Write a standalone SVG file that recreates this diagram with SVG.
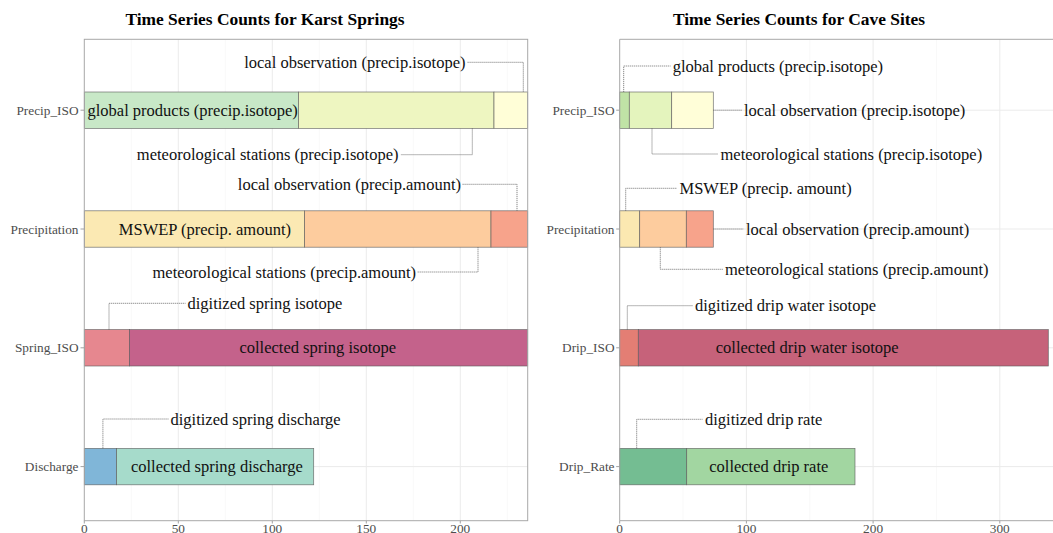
<svg xmlns="http://www.w3.org/2000/svg" width="1053" height="533" viewBox="0 0 1053 533">
<style>
text { font-family: "Liberation Serif", "Times New Roman", serif; }
.title { font-size: 17.4px; font-weight: bold; fill: #000; text-anchor: middle; }
.ann { font-size: 16.5px; fill: #111; }
.ax { font-size: 13.3px; fill: #4d4d4d; }
.yl { text-anchor: end; }
.xl { text-anchor: middle; }
.mid { text-anchor: middle; }
.end { text-anchor: end; }
.gmaj { stroke: #ebebeb; stroke-width: 1; }
.gmin { stroke: #f5f5f5; stroke-width: 0.6; }
.frame { fill: none; stroke: #a8a8a8; stroke-width: 1; }
.tick { stroke: #8a8a8a; stroke-width: 0.8; }
.bar { stroke: #5c5c5c; stroke-width: 0.7; stroke-opacity: 0.85; }
.lead { fill: none; stroke: #555; stroke-width: 0.7; stroke-dasharray: 1.2 0.8; }
</style>
<rect x="0" y="0" width="1053" height="533" fill="#ffffff"/>

<!-- ============ LEFT PANEL ============ -->
<g id="left-panel">
  <text class="title" x="265" y="24.5">Time Series Counts for Karst Springs</text>
  <g id="left-grid">
    <line class="gmin" x1="131.3" y1="39.3" x2="131.3" y2="520.7"/>
    <line class="gmin" x1="225.3" y1="39.3" x2="225.3" y2="520.7"/>
    <line class="gmin" x1="319.3" y1="39.3" x2="319.3" y2="520.7"/>
    <line class="gmin" x1="413.3" y1="39.3" x2="413.3" y2="520.7"/>
    <line class="gmin" x1="507.3" y1="39.3" x2="507.3" y2="520.7"/>
    <line class="gmaj" x1="178.3" y1="39.3" x2="178.3" y2="520.7"/>
    <line class="gmaj" x1="272.3" y1="39.3" x2="272.3" y2="520.7"/>
    <line class="gmaj" x1="366.3" y1="39.3" x2="366.3" y2="520.7"/>
    <line class="gmaj" x1="460.3" y1="39.3" x2="460.3" y2="520.7"/>
    <line class="gmaj" x1="84.3" y1="110.2" x2="527.7" y2="110.2"/>
    <line class="gmaj" x1="84.3" y1="229" x2="527.7" y2="229"/>
    <line class="gmaj" x1="84.3" y1="347.8" x2="527.7" y2="347.8"/>
    <line class="gmaj" x1="84.3" y1="466.6" x2="527.7" y2="466.6"/>
  </g>
  <g id="left-axes">
    <line class="tick" x1="80.5" y1="110.2" x2="84.3" y2="110.2"/>
    <line class="tick" x1="80.5" y1="229" x2="84.3" y2="229"/>
    <line class="tick" x1="80.5" y1="347.8" x2="84.3" y2="347.8"/>
    <line class="tick" x1="80.5" y1="466.6" x2="84.3" y2="466.6"/>
    <line class="tick" x1="84.3" y1="520.7" x2="84.3" y2="523.5"/>
    <line class="tick" x1="178.3" y1="520.7" x2="178.3" y2="523.5"/>
    <line class="tick" x1="272.3" y1="520.7" x2="272.3" y2="523.5"/>
    <line class="tick" x1="366.3" y1="520.7" x2="366.3" y2="523.5"/>
    <line class="tick" x1="460.3" y1="520.7" x2="460.3" y2="523.5"/>
    <text class="ax yl" x="78.5" y="114.7">Precip_ISO</text>
    <text class="ax yl" x="78.5" y="233.5">Precipitation</text>
    <text class="ax yl" x="78.5" y="352.3">Spring_ISO</text>
    <text class="ax yl" x="78.5" y="471.1">Discharge</text>
    <text class="ax xl" x="84.3" y="532.5">0</text>
    <text class="ax xl" x="178.3" y="532.5">50</text>
    <text class="ax xl" x="272.3" y="532.5">100</text>
    <text class="ax xl" x="366.3" y="532.5">150</text>
    <text class="ax xl" x="460.3" y="532.5">200</text>
  </g>
</g>

<g id="node-left-precipiso-global">
  <rect class="bar" x="84.3" y="92" width="214.2" height="36.4" fill="#c8e8c7"/>
  <text class="ann" x="87.5" y="115.7">global products (precip.isotope)</text>
</g>
<g id="node-left-precipiso-met">
  <rect class="bar" x="298.5" y="92" width="195.5" height="36.4" fill="#eef6c1"/>
  <text class="ann end" x="398.5" y="160.2">meteorological stations (precip.isotope)</text>
</g>
<g id="node-left-precipiso-local">
  <rect class="bar" x="494" y="92" width="33.7" height="36.4" fill="#fffed7"/>
  <text class="ann end" x="465.5" y="67.8">local observation (precip.isotope)</text>
</g>

<g id="node-left-precip-mswep">
  <rect class="bar" x="84.3" y="210.8" width="220.3" height="36.4" fill="#fbe9b3"/>
  <text class="ann mid" x="204.9" y="234.5">MSWEP (precip. amount)</text>
</g>
<g id="node-left-precip-met">
  <rect class="bar" x="304.6" y="210.8" width="186.4" height="36.4" fill="#fdcc9e"/>
  <text class="ann end" x="416" y="277.5">meteorological stations (precip.amount)</text>
</g>
<g id="node-left-precip-local">
  <rect class="bar" x="491" y="210.8" width="36.7" height="36.4" fill="#f7a38b"/>
  <text class="ann end" x="461" y="189.8">local observation (precip.amount)</text>
</g>

<g id="node-left-spring-digitized">
  <rect class="bar" x="84.3" y="329.6" width="45.2" height="36.4" fill="#e6878f"/>
  <text class="ann" x="187.5" y="308.8">digitized spring isotope</text>
</g>
<g id="node-left-spring-collected">
  <rect class="bar" x="129.5" y="329.6" width="398.2" height="36.4" fill="#c4628b"/>
  <text class="ann mid" x="317.8" y="353.3">collected spring isotope</text>
</g>

<g id="node-left-discharge-digitized">
  <rect class="bar" x="84.3" y="448.4" width="32.3" height="36.4" fill="#80b6d8"/>
  <text class="ann" x="170.5" y="424.5">digitized spring discharge</text>
</g>
<g id="node-left-discharge-collected">
  <rect class="bar" x="116.6" y="448.4" width="197.1" height="36.4" fill="#a6dbcb"/>
  <text class="ann mid" x="216.9" y="472.1">collected spring discharge</text>
</g>

<rect class="frame" x="84.3" y="39.3" width="443.4" height="481.4"/>

<!-- ============ RIGHT PANEL ============ -->
<g id="right-panel">
  <text class="title" x="799" y="24.5">Time Series Counts for Cave Sites</text>
  <g id="right-grid">
    <line class="gmin" x1="683" y1="39.3" x2="683" y2="520.7"/>
    <line class="gmin" x1="809.7" y1="39.3" x2="809.7" y2="520.7"/>
    <line class="gmin" x1="936.5" y1="39.3" x2="936.5" y2="520.7"/>
    <line class="gmaj" x1="746.4" y1="39.3" x2="746.4" y2="520.7"/>
    <line class="gmaj" x1="873.1" y1="39.3" x2="873.1" y2="520.7"/>
    <line class="gmaj" x1="999.8" y1="39.3" x2="999.8" y2="520.7"/>
    <line class="gmaj" x1="619.7" y1="110.2" x2="1053" y2="110.2"/>
    <line class="gmaj" x1="619.7" y1="229" x2="1053" y2="229"/>
    <line class="gmaj" x1="619.7" y1="347.8" x2="1053" y2="347.8"/>
    <line class="gmaj" x1="619.7" y1="466.6" x2="1053" y2="466.6"/>
  </g>
  <g id="right-axes">
    <line class="tick" x1="616.2" y1="110.2" x2="619.7" y2="110.2"/>
    <line class="tick" x1="616.2" y1="229" x2="619.7" y2="229"/>
    <line class="tick" x1="616.2" y1="347.8" x2="619.7" y2="347.8"/>
    <line class="tick" x1="616.2" y1="466.6" x2="619.7" y2="466.6"/>
    <line class="tick" x1="619.7" y1="520.7" x2="619.7" y2="523.5"/>
    <line class="tick" x1="746.4" y1="520.7" x2="746.4" y2="523.5"/>
    <line class="tick" x1="873.1" y1="520.7" x2="873.1" y2="523.5"/>
    <line class="tick" x1="999.8" y1="520.7" x2="999.8" y2="523.5"/>
    <text class="ax yl" x="614.5" y="114.7">Precip_ISO</text>
    <text class="ax yl" x="614.5" y="233.5">Precipitation</text>
    <text class="ax yl" x="614.5" y="352.3">Drip_ISO</text>
    <text class="ax yl" x="614.5" y="471.1">Drip_Rate</text>
    <text class="ax xl" x="619.7" y="532.5">0</text>
    <text class="ax xl" x="746.4" y="532.5">100</text>
    <text class="ax xl" x="873.1" y="532.5">200</text>
    <text class="ax xl" x="999.8" y="532.5">300</text>
  </g>
</g>

<g id="node-right-precipiso-global">
  <rect class="bar" x="619.7" y="92" width="9.6" height="36.4" fill="#c0e3a6"/>
  <text class="ann" x="672.7" y="71.5">global products (precip.isotope)</text>
</g>
<g id="node-right-precipiso-met">
  <rect class="bar" x="629.3" y="92" width="42.4" height="36.4" fill="#e4f4bd"/>
  <text class="ann" x="720.5" y="159.5">meteorological stations (precip.isotope)</text>
</g>
<g id="node-right-precipiso-local">
  <rect class="bar" x="671.7" y="92" width="41.6" height="36.4" fill="#fffed8"/>
  <text class="ann" x="744" y="115.7">local observation (precip.isotope)</text>
</g>

<g id="node-right-precip-mswep">
  <rect class="bar" x="619.7" y="210.8" width="20" height="36.4" fill="#fbe8b1"/>
  <text class="ann" x="679.5" y="193.8">MSWEP (precip. amount)</text>
</g>
<g id="node-right-precip-met">
  <rect class="bar" x="639.7" y="210.8" width="46.6" height="36.4" fill="#fdcc9e"/>
  <text class="ann" x="725" y="274.8">meteorological stations (precip.amount)</text>
</g>
<g id="node-right-precip-local">
  <rect class="bar" x="686.3" y="210.8" width="27" height="36.4" fill="#f7a38b"/>
  <text class="ann" x="746" y="234.5">local observation (precip.amount)</text>
</g>

<g id="node-right-drip-digitized">
  <rect class="bar" x="619.7" y="329.6" width="18.6" height="36.4" fill="#e37e74"/>
  <text class="ann" x="695" y="311.2">digitized drip water isotope</text>
</g>
<g id="node-right-drip-collected">
  <rect class="bar" x="638.3" y="329.6" width="410" height="36.4" fill="#c6627a"/>
  <text class="ann mid" x="807.2" y="353.3">collected drip water isotope</text>
</g>

<g id="node-right-driprate-digitized">
  <rect class="bar" x="619.7" y="448.4" width="67" height="36.4" fill="#74bd92"/>
  <text class="ann" x="705" y="424.8">digitized drip rate</text>
</g>
<g id="node-right-driprate-collected">
  <rect class="bar" x="686.7" y="448.4" width="168.3" height="36.4" fill="#a2d6a1"/>
  <text class="ann mid" x="768.8" y="472.1">collected drip rate</text>
</g>

<path class="frame" d="M1060 39.3 H619.7 V520.7 H1060"/>

<!-- ============ CONNECTORS (leader lines) ============ -->
<g id="connectors">
  <path class="lead" d="M467.5 62.3 H523.3 V92"/>
  <path class="lead" d="M472.3 128.4 V154.7 H400.5"/>
  <path class="lead" d="M462.5 184.3 H517 V210.8"/>
  <path class="lead" d="M478 247.2 V272 H417.5"/>
  <path class="lead" d="M109 329.6 V303.3 H185.5"/>
  <path class="lead" d="M102.9 448.4 V419 H168.5"/>

  <path class="lead" d="M623.7 92 V66 H670.5"/>
  <path class="lead" d="M713.3 110.2 H742"/>
  <path class="lead" d="M652 128.4 V154 H718"/>
  <path class="lead" d="M625.7 210.8 V188.3 H677"/>
  <path class="lead" d="M713.3 229 H743.5"/>
  <path class="lead" d="M660.3 247.2 V269.3 H723"/>
  <path class="lead" d="M627.3 329.6 V305.7 H692.5"/>
  <path class="lead" d="M636.7 448.4 V419.3 H702.5"/>
</g>
</svg>
